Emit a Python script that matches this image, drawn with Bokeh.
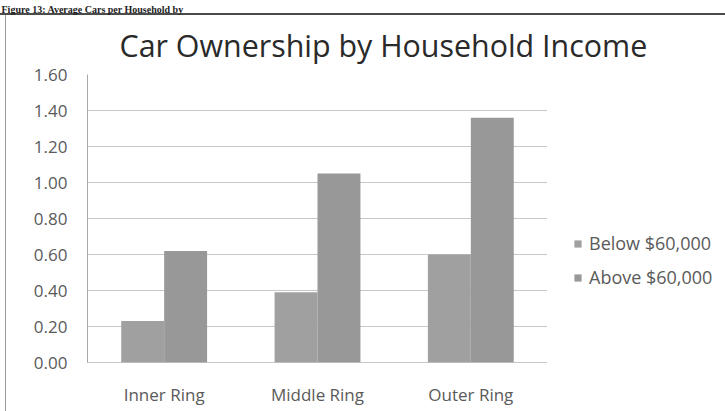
from bokeh.plotting import figure
from bokeh.models import (ColumnDataSource, FixedTicker, NumeralTickFormatter,
                          Legend, LegendItem, Title)
from bokeh.transform import dodge
from bokeh.embed import file_html
from bokeh.resources import INLINE

# ---- data ----
categories = ["Inner Ring", "Middle Ring", "Outer Ring"]
below_60k = [0.23, 0.39, 0.60]
above_60k = [0.62, 1.05, 1.36]
series_labels = ["Below $60,000", "Above $60,000"]
y_tick_values = [0.0, 0.2, 0.4, 0.6, 0.8, 1.0, 1.2, 1.4, 1.6]
title_text = "Car Ownership by Household Income"
caption_text = "Figure 13: Average Cars per Household by"

# ---- style ----
FONT = "Open Sans"
TEXT_GRAY = "#5a5a5a"
BAR_BELOW = "#a0a0a0"
BAR_ABOVE = "#989898"
GRID = "#8f8f8f"
BORDER = "#9a9a9a"

W, H = 725, 411
FL, FW, FT, FH = 87, 460, 74, 288   # frame left, width, top, height (px)

source = ColumnDataSource(dict(cat=categories, below=below_60k, above=above_60k))

# outermost title slot: the scanned page caption
caption = Title(text=caption_text, align="left", offset=-86,
                text_font="Liberation Serif", text_font_style="bold",
                text_font_size="10px", text_color="#1e1e1e", standoff=0)

p = figure(x_range=categories, y_range=(0, 1.6),
           frame_width=FW, frame_height=FH,
           min_border_left=FL, min_border_right=W - FL - FW,
           min_border_top=FT, min_border_bottom=H - FT - FH,
           output_backend="svg", toolbar_location=None, title=caption)

# scanned chart border (top rule and left edge) drawn behind a transparent canvas
p.styles = {
    "background-color": "white",
    "background-image": "linear-gradient(#4c4c4c, #4c4c4c), "
                        f"linear-gradient({BORDER}, {BORDER})",
    "background-size": "100% 2px, 1px 100%",
    "background-position": "0px 13px, 5px 14px",
    "background-repeat": "no-repeat",
}
p.background_fill_color = "white"
p.border_fill_color = None
p.outline_line_color = None

# chart title (nearest to the plot area)
p.add_layout(Title(text=title_text, align="left", offset=32,
                   text_font=FONT, text_font_size="30.4px",
                   text_font_style="normal", text_color="#2a2a2a",
                   standoff=17), "above")

r1 = p.vbar(x=dodge("cat", -0.14, range=p.x_range), top="below", width=0.28,
            source=source, fill_color=BAR_BELOW, line_color=None)
r2 = p.vbar(x=dodge("cat", 0.14, range=p.x_range), top="above", width=0.28,
            source=source, fill_color=BAR_ABOVE, line_color=None)

p.xgrid.grid_line_color = None
p.ygrid.ticker = FixedTicker(ticks=y_tick_values)
p.ygrid.grid_line_color = GRID
p.ygrid.grid_line_dash = "1 1"

p.yaxis.ticker = FixedTicker(ticks=y_tick_values)
p.yaxis.formatter = NumeralTickFormatter(format="0.00")
p.yaxis.axis_line_color = "#a8a8a8"
p.yaxis.major_tick_line_color = None
p.yaxis.minor_tick_line_color = None
p.yaxis.major_label_standoff = 14
p.yaxis.major_label_text_font = FONT
p.yaxis.major_label_text_font_size = "17px"
p.yaxis.major_label_text_color = TEXT_GRAY

p.xaxis.axis_line_color = GRID
p.xaxis.axis_line_dash = "1 1"
p.xaxis.major_tick_line_color = None
p.xaxis.minor_tick_line_color = None
p.xaxis.major_label_standoff = 14
p.xaxis.major_label_text_font = FONT
p.xaxis.major_label_text_font_size = "17px"
p.xaxis.major_label_text_color = TEXT_GRAY

legend = Legend(items=[LegendItem(label=series_labels[0], renderers=[r1]),
                       LegendItem(label=series_labels[1], renderers=[r2])],
                location=(26, 73), orientation="vertical",
                glyph_width=9, glyph_height=9, label_height=23, spacing=10,
                label_standoff=7, padding=0, margin=0,
                border_line_color=None, background_fill_alpha=0,
                label_text_font=FONT, label_text_font_size="18px",
                label_text_color=TEXT_GRAY)
p.add_layout(legend, "right")

open("out.html", "w").write(file_html(p, INLINE))
